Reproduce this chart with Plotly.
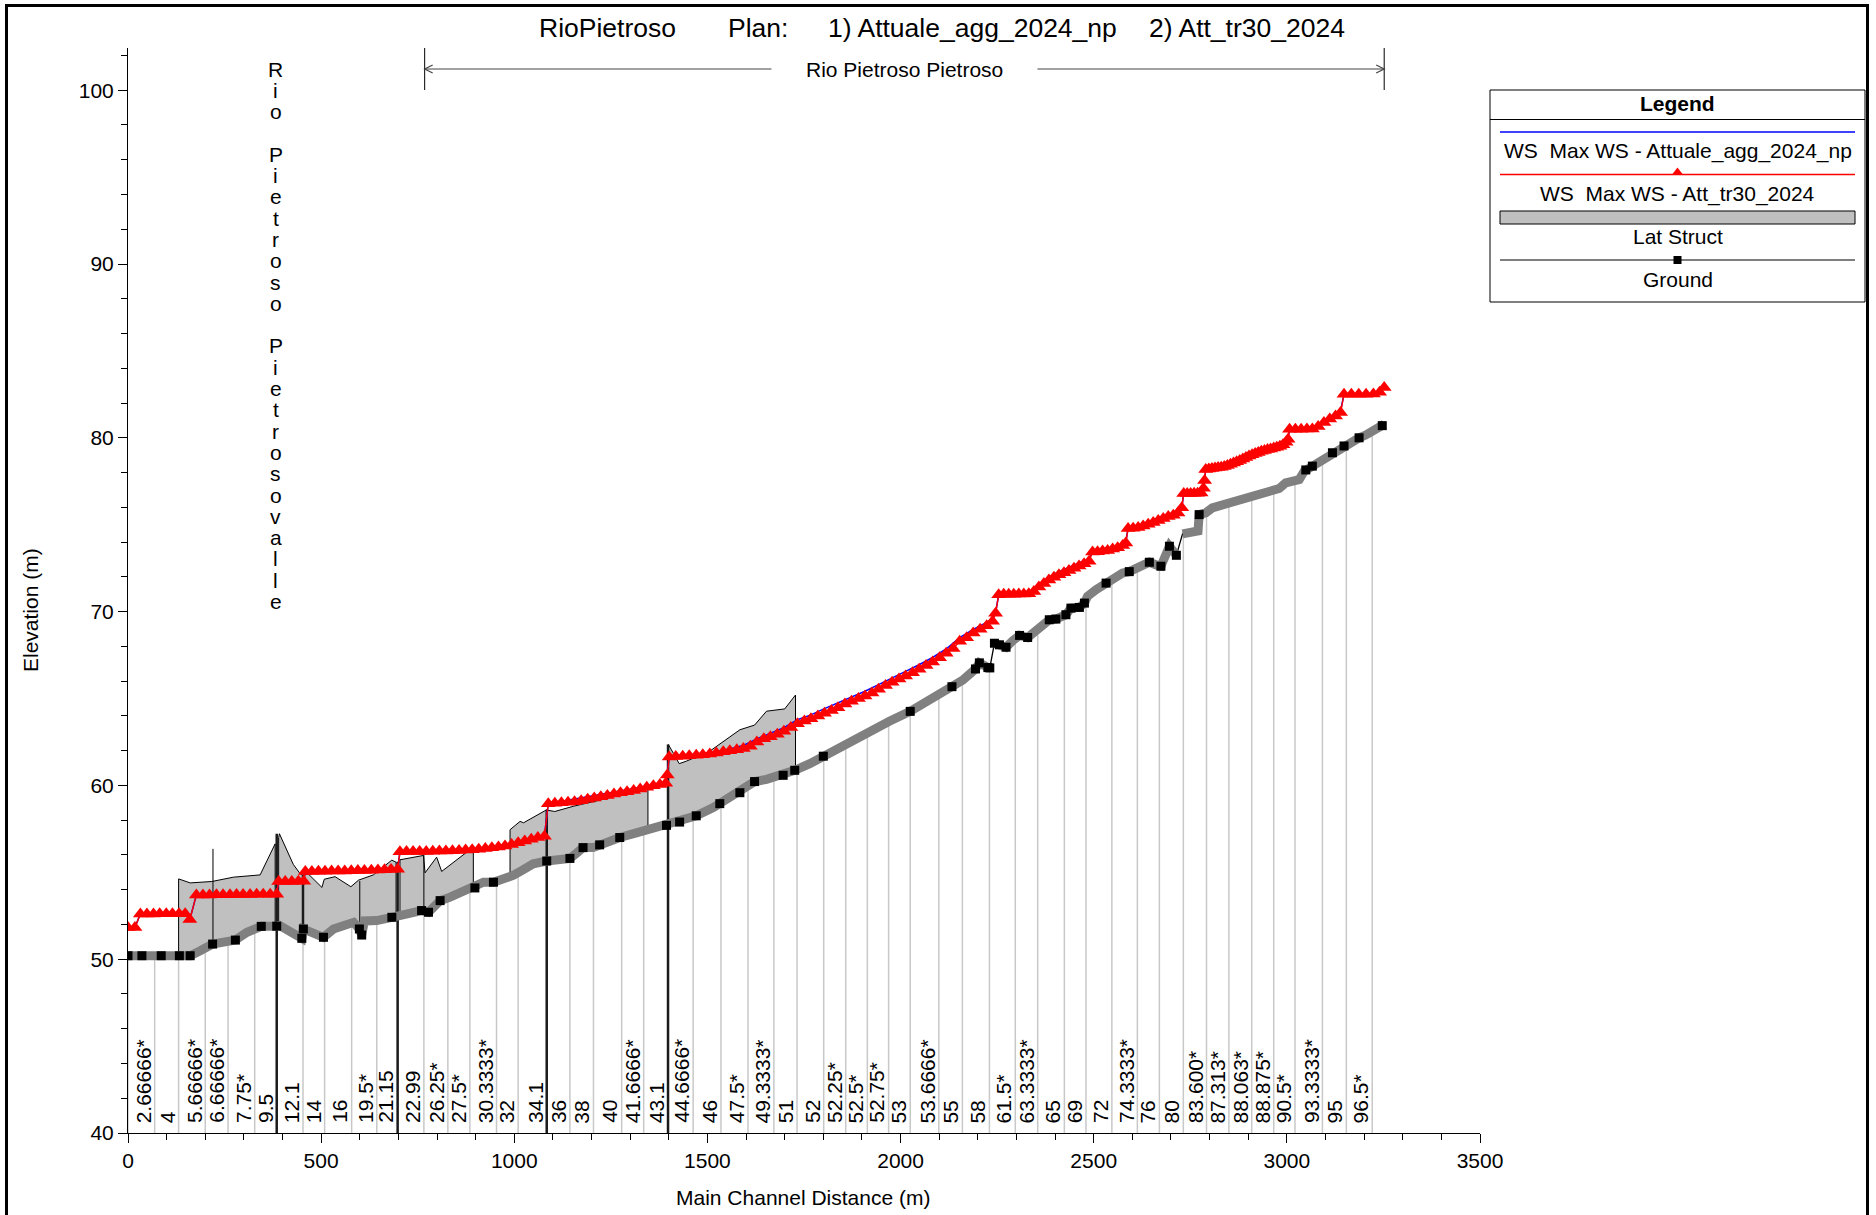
import plotly.graph_objects as go

W, H = 1876, 1215
FONT = "Liberation Sans, Arial, sans-serif"

# ---------------- data ----------------
grid_x = [0, 69, 131, 200, 259, 328, 385, 453, 509, 579, 644, 698, 766, 828, 885, 954, 1010,
          1084, 1144, 1205, 1278, 1335, 1398, 1463, 1535, 1605, 1672, 1732, 1801, 1858, 1914,
          1969, 2025, 2099, 2160, 2230, 2297, 2355, 2424, 2480, 2547, 2613, 2670, 2732, 2792,
          2850, 2909, 2966, 3021, 3092, 3154, 3221]
grid_ground = [50.2, 50.2, 50.2, 50.62, 51.05, 51.75, 51.9, 51.5, 51.3, 52.1,
               52.22, 52.5, 52.77, 53.52, 54.0, 54.45, 54.98, 55.65, 55.8, 56.42,
               57.03, 57.4, 57.72, 58.18, 58.98, 59.92, 60.45, 60.9, 61.68, 62.42,
               63.11, 63.67, 64.26, 65.17, 66.05, 66.76, 68.45, 68.93, 69.78, 70.6,
               71.95, 72.53, 72.63, 74.47, 75.71, 76.25, 76.64, 76.99, 77.55, 78.7,
               79.6, 80.37]
station_labels = ["2.66666*", "4", "5.66666*", "6.66666*", "7.75*", "9.5", "12.1", "14", "16",
                  "19.5*", "21.15", "22.99", "26.25*", "27.5*", "30.3333*", "32", "34.1", "36",
                  "38", "40", "41.6666*", "43.1", "44.6666*", "46", "47.5*", "49.3333*", "51",
                  "52", "52.25*", "52.5*", "52.75*", "53", "53.6666*", "55", "58", "61.5*",
                  "63.3333*", "65", "69", "72", "74.3333*", "76", "80", "83.600*", "87.313*",
                  "88.063*", "88.875*", "90.5*", "93.3333*", "95", "96.5*"]

ground = [(0, 50.2), (36, 50.2), (86, 50.2), (133, 50.2), (161, 50.2), (187, 50.49),
          (219, 50.87), (278, 51.1), (308, 51.55), (345, 51.89), (377, 51.8), (385, 51.9),
          (392, 51.95), (428, 51.45), (450, 51.2), (454, 51.74), (480, 51.55), (506, 51.26),
          (532, 51.74), (584, 52.12), (599, 51.74), (605, 51.39), (612, 52.2), (644, 52.22),
          (683, 52.41), (698, 52.5), (760, 52.8), (778, 52.7), (808, 53.37), (834, 53.57),
          (877, 53.95), (898, 54.1), (920, 54.43), (946, 54.43), (963, 54.53), (997, 54.82),
          (1019, 55.1), (1049, 55.49), (1084, 55.65), (1118, 55.77), (1144, 55.8),
          (1161, 56.1), (1178, 56.42), (1204, 56.42), (1221, 56.58), (1247, 56.73),
          (1273, 57.0), (1316, 57.27), (1351, 57.5), (1394, 57.7), (1428, 57.89),
          (1471, 58.25), (1515, 58.72), (1532, 58.95), (1549, 59.2), (1584, 59.58),
          (1622, 60.22), (1653, 60.35), (1696, 60.58), (1726, 60.87), (1765, 61.25),
          (1800, 61.68), (1834, 62.08), (1860, 62.45), (1915, 63.12), (1971, 63.69),
          (2025, 64.26), (2101, 65.2), (2133, 65.68), (2161, 66.06), (2194, 66.7),
          (2204, 67.05), (2226, 66.78), (2231, 66.76), (2243, 68.18), (2256, 68.09),
          (2273, 67.95), (2290, 68.32), (2308, 68.63), (2329, 68.51), (2351, 68.86),
          (2368, 69.2), (2385, 69.53), (2402, 69.57), (2428, 69.82), (2441, 70.2),
          (2463, 70.24), (2476, 70.49), (2484, 70.88), (2506, 71.26), (2532, 71.64),
          (2553, 72.03), (2575, 72.22), (2592, 72.3), (2609, 72.51), (2631, 72.7),
          (2644, 72.84), (2665, 72.65), (2674, 72.61), (2696, 73.76), (2714, 73.24),
          (2730, 74.47), (2756, 74.59), (2770, 74.64), (2773, 75.58), (2790, 75.68),
          (2807, 75.97), (2851, 76.26), (2894, 76.55), (2937, 76.8), (2980, 77.08),
          (2997, 77.41), (3032, 77.6), (3045, 78.08), (3066, 78.37), (3101, 78.81),
          (3118, 79.14), (3135, 79.33), (3148, 79.53), (3170, 79.72), (3187, 80.0),
          (3204, 80.16), (3239, 80.58), (3252, 80.78)]
band_breaks = [2237, 2722]

ground_marks = [(0, 50.2), (36, 50.2), (86, 50.2), (133, 50.2), (161, 50.2), (219, 50.87),
                (278, 51.1), (345, 51.89), (385, 51.9), (450, 51.2), (454, 51.74),
                (506, 51.26), (599, 51.74), (605, 51.39), (683, 52.41), (760, 52.8),
                (778, 52.7), (808, 53.37), (898, 54.1), (946, 54.43), (1084, 55.65),
                (1144, 55.8), (1178, 56.42), (1221, 56.58), (1273, 57.0), (1394, 57.7),
                (1428, 57.89), (1471, 58.25), (1532, 58.95), (1584, 59.58), (1622, 60.22),
                (1696, 60.58), (1726, 60.87), (1800, 61.68), (2025, 64.26), (2133, 65.68),
                (2194, 66.7), (2204, 67.05), (2226, 66.78), (2231, 66.76), (2243, 68.18),
                (2256, 68.09), (2273, 67.95), (2308, 68.63), (2329, 68.51), (2385, 69.53),
                (2402, 69.57), (2428, 69.82), (2441, 70.2), (2463, 70.24), (2476, 70.49),
                (2532, 71.64), (2592, 72.3), (2644, 72.84), (2674, 72.61), (2696, 73.76),
                (2714, 73.24), (2773, 75.58), (3049, 78.15), (3066, 78.37), (3118, 79.14),
                (3148, 79.53), (3187, 80.0), (3247, 80.7)]

# WS Max WS - Att_tr30_2024 (red, markers at every section)
ws_tr30 = [(0, 51.83), (18, 51.83), (32, 52.6), (49, 52.6), (66, 52.6), (82, 52.61),
           (99, 52.61), (115, 52.62), (132, 52.62), (148, 52.62), (160, 52.28),
           (177, 53.7), (194, 53.7), (211, 53.7), (229, 53.71), (246, 53.71), (264, 53.71),
           (281, 53.72), (298, 53.72), (316, 53.72), (333, 53.73), (350, 53.73),
           (368, 53.73), (385, 53.74), (390, 54.47), (407, 54.47), (424, 54.47),
           (441, 54.48), (455, 54.48), (459, 55.05), (476, 55.05), (493, 55.06),
           (510, 55.06), (527, 55.07), (544, 55.07), (561, 55.08), (578, 55.09),
           (595, 55.1), (612, 55.11), (630, 55.12), (647, 55.13), (664, 55.14),
           (681, 55.16), (698, 55.17), (704, 56.18), (721, 56.19), (738, 56.19),
           (755, 56.2), (772, 56.2), (789, 56.21), (806, 56.22), (823, 56.23), (840, 56.24),
           (857, 56.26), (874, 56.28), (891, 56.3), (908, 56.33), (925, 56.37),
           (942, 56.41), (959, 56.46), (976, 56.52), (993, 56.6), (1010, 56.7),
           (1027, 56.8), (1044, 56.9), (1061, 57.0), (1078, 57.08), (1088, 58.95),
           (1105, 58.97), (1122, 59.0), (1139, 59.03), (1156, 59.06), (1173, 59.12),
           (1190, 59.2), (1207, 59.27), (1224, 59.34), (1241, 59.42), (1258, 59.5),
           (1275, 59.57), (1292, 59.63), (1309, 59.7), (1326, 59.8), (1343, 59.9),
           (1360, 59.98), (1377, 60.05), (1392, 60.12), (1396, 60.6), (1401, 61.64),
           (1418, 61.66), (1436, 61.68), (1453, 61.7), (1471, 61.73), (1488, 61.76),
           (1506, 61.8), (1523, 61.86), (1541, 61.94), (1558, 62.0), (1576, 62.05),
           (1593, 62.12), (1611, 62.25), (1628, 62.5), (1646, 62.68), (1663, 62.8),
           (1681, 62.95), (1698, 63.12), (1716, 63.33), (1733, 63.55), (1751, 63.7),
           (1768, 63.83), (1786, 64.0), (1803, 64.15), (1821, 64.31), (1838, 64.47),
           (1856, 64.68), (1873, 64.84), (1891, 65.0), (1908, 65.14), (1926, 65.32),
           (1943, 65.53), (1961, 65.75), (1978, 65.94), (1996, 66.12), (2013, 66.3),
           (2031, 66.48), (2048, 66.68), (2066, 66.9), (2083, 67.1), (2101, 67.35),
           (2118, 67.6), (2136, 67.88), (2153, 68.3), (2171, 68.5), (2188, 68.77),
           (2206, 68.98), (2223, 69.18), (2238, 69.45), (2246, 69.91), (2254, 70.97),
           (2267, 71.0), (2280, 71.0), (2293, 71.0), (2306, 71.01), (2319, 71.01),
           (2332, 71.02), (2345, 71.15), (2358, 71.42), (2371, 71.62), (2384, 71.82),
           (2397, 71.98), (2410, 72.12), (2423, 72.24), (2436, 72.36), (2449, 72.5),
           (2462, 72.62), (2475, 72.75), (2488, 72.9), (2497, 73.43), (2510, 73.45),
           (2523, 73.48), (2536, 73.52), (2549, 73.6), (2562, 73.68), (2575, 73.8),
           (2583, 73.95), (2589, 74.78), (2602, 74.8), (2615, 74.84), (2628, 74.92),
           (2641, 75.02), (2654, 75.12), (2667, 75.24), (2680, 75.36), (2693, 75.47),
           (2706, 75.55), (2718, 75.68), (2728, 75.97), (2733, 76.8), (2742, 76.8),
           (2751, 76.8), (2760, 76.81), (2769, 76.81), (2778, 76.82), (2784, 77.1),
           (2787, 77.55), (2790, 78.18), (2798, 78.2), (2806, 78.23), (2814, 78.26),
           (2822, 78.29), (2830, 78.31), (2838, 78.35), (2846, 78.41), (2854, 78.48),
           (2862, 78.55), (2870, 78.62), (2878, 78.7), (2886, 78.78), (2894, 78.86),
           (2902, 78.95), (2910, 79.03), (2918, 79.1), (2926, 79.16), (2934, 79.22),
           (2942, 79.27), (2950, 79.32), (2958, 79.36), (2966, 79.41), (2974, 79.46),
           (2982, 79.52), (2990, 79.6), (2998, 79.75), (3003, 79.91), (3007, 80.49),
           (3022, 80.49), (3037, 80.49), (3052, 80.5), (3066, 80.5), (3081, 80.65),
           (3096, 80.88), (3111, 81.08), (3126, 81.25), (3139, 81.45), (3148, 82.51),
           (3167, 82.51), (3186, 82.51), (3205, 82.51), (3224, 82.52), (3240, 82.62),
           (3252, 82.89)]

# WS Max WS - Attuale_agg_2024_np (blue line)
ws_attuale = [(0, 51.83), (18, 51.83), (32, 52.6), (148, 52.62), (160, 52.28), (177, 53.7),
              (385, 53.74), (390, 54.47), (455, 54.48), (459, 55.05), (698, 55.17),
              (704, 56.18), (891, 56.3), (1010, 56.72), (1078, 57.1), (1088, 58.95),
              (1392, 60.14), (1396, 60.6), (1401, 61.66), (1453, 61.74), (1506, 61.86),
              (1558, 62.1), (1593, 62.3), (1628, 62.68), (1663, 62.98), (1698, 63.32),
              (1733, 63.78), (1768, 64.06), (1803, 64.42), (1838, 64.75), (1873, 65.1),
              (1908, 65.42), (1943, 65.8), (1978, 66.2), (2013, 66.56), (2048, 66.94),
              (2083, 67.36), (2118, 67.85), (2153, 68.5), (2188, 68.98), (2223, 69.36),
              (2238, 69.55), (2246, 69.93), (2254, 70.98), (2332, 71.04), (2345, 71.25),
              (2371, 71.78), (2397, 72.15), (2423, 72.42), (2449, 72.68), (2475, 72.93),
              (2488, 73.05), (2497, 73.45), (2549, 73.65), (2575, 73.85), (2583, 73.98),
              (2589, 74.8), (2615, 74.86), (2641, 75.12), (2667, 75.36), (2693, 75.6),
              (2718, 75.8), (2728, 76.0), (2733, 76.8), (2778, 76.84), (2784, 77.12),
              (2787, 77.56), (2790, 78.2), (2830, 78.36), (2870, 78.78), (2910, 79.22),
              (2950, 79.5), (2990, 79.75), (2998, 79.9), (3003, 80.0), (3007, 80.5),
              (3066, 80.52), (3081, 80.72), (3111, 81.22), (3139, 81.55), (3148, 82.52),
              (3224, 82.53), (3240, 82.66), (3252, 82.92)]

# Lateral structures (closed outlines: crest, then ground back)
ls1_x = [131, 161, 217, 273, 342, 381, 381, 345, 308, 278, 219, 187, 161, 131, 131]
ls1_z = [54.62, 54.39, 54.47, 54.72, 54.85, 56.64, 51.9, 51.89, 51.55, 51.1, 50.87, 50.49, 50.2, 50.2, 54.62]
ls2_x = [390, 392, 428, 446, 452, 452, 428, 390, 390]
ls2_z = [57.0, 57.22, 55.45, 54.91, 54.85, 51.3, 51.45, 51.93, 57.0]
ls3_x = [453, 467, 502, 508, 536, 577, 597, 635, 683, 694, 694, 683, 644, 612, 605, 599, 584, 532, 506, 480, 454, 453]
ls3_z = [54.85, 54.9, 54.13, 54.6, 54.75, 54.17, 54.55, 54.85, 55.7, 55.58, 52.48, 52.41, 52.22, 52.2, 51.39, 51.74, 52.12, 51.74, 51.26, 51.55, 51.74, 54.85]
ls4_x = [704, 765, 769, 799, 812, 894, 894, 877, 834, 808, 778, 760, 704, 704]
ls4_z = [55.72, 55.97, 54.97, 55.87, 55.05, 56.45, 54.1, 53.95, 53.57, 53.37, 52.7, 52.8, 52.52, 55.72]
ls5_x = [989, 1015, 1024, 1079, 1084, 1084, 1049, 1019, 989, 989]
ls5_z = [57.45, 57.93, 57.85, 58.57, 58.6, 55.65, 55.49, 55.1, 54.75, 57.45]
ls6_x = [1086, 1105, 1153, 1240, 1325, 1346, 1346, 1316, 1273, 1247, 1221, 1178, 1161, 1144, 1118, 1086, 1086]
ls6_z = [58.57, 58.5, 58.8, 59.25, 59.85, 60.04, 57.47, 57.27, 57.0, 56.73, 56.58, 56.42, 56.1, 55.8, 55.77, 55.66, 58.57]
ls7_x = [1399, 1410, 1427, 1446, 1506, 1584, 1622, 1653, 1700, 1728, 1728, 1696, 1653, 1622, 1584, 1549, 1515, 1471, 1428, 1399, 1399]
ls7_z = [62.35, 61.9, 61.25, 61.4, 61.97, 63.2, 63.47, 64.27, 64.4, 65.2, 60.87, 60.58, 60.35, 60.22, 59.58, 59.2, 58.72, 58.25, 57.89, 57.7, 62.35]

# thin posts and structure lines
post_x = [220, 600, 766]
post_bot = [50.87, 52.0, 52.75]
post_top = [56.35, 54.5, 56.0]
struct_x = [385, 453, 698, 1084, 1398]
struct_bot = [40, 51.3, 40, 40, 40]
struct_top = [57.22, 54.85, 55.6, 58.6, 62.35]

reach_up = [768, 3252]
reach_up_name = "Rio Pietroso Pietroso"
reach_down = [0, 766]
reach_down_name = "Rio Pietroso Pietrosovalle"

title_parts = ["RioPietroso", "Plan:", "1) Attuale_agg_2024_np", "2) Att_tr30_2024"]
legend_labels = ["WS\u00a0 Max WS - Attuale_agg_2024_np", "WS\u00a0 Max WS - Att_tr30_2024",
                 "Lat Struct", "Ground"]

# ---------------- layout helpers ----------------
PL, PR, PT, PB = 128, 1480, 48, 1133   # plot area in pixels
Y0 = 40
Y1 = 40 + (PB - PT) / 17.38
X0, X1 = 0, 3500
m_per_px = (X1 - X0) / (PR - PL)
TXT = 21

fig = go.Figure()

# gridlines (station lines from axis to ground)
gx, gy = [], []
for x, z in zip(grid_x, grid_ground):
    gx += [x, x, None]
    gy += [Y0, z, None]
fig.add_trace(go.Scatter(x=gx, y=gy, mode="lines", line=dict(color="#C8C8C8", width=1.5),
                         hoverinfo="skip", showlegend=False))

# lateral structures
for lx, lz in [(ls1_x, ls1_z), (ls2_x, ls2_z), (ls3_x, ls3_z), (ls4_x, ls4_z),
               (ls5_x, ls5_z), (ls6_x, ls6_z), (ls7_x, ls7_z)]:
    fig.add_trace(go.Scatter(x=lx, y=lz, mode="lines", fill="toself", fillcolor="#C0C0C0",
                             line=dict(color="black", width=1), hoverinfo="skip",
                             showlegend=False))

# posts
px_, pz_ = [], []
for x, b, t in zip(post_x, post_bot, post_top):
    px_ += [x, x, None]
    pz_ += [b, t, None]
fig.add_trace(go.Scatter(x=px_, y=pz_, mode="lines", line=dict(color="black", width=1),
                         hoverinfo="skip", showlegend=False))
sx_, sz_ = [], []
for x, b, t in zip(struct_x, struct_bot, struct_top):
    sx_ += [x, x, None]
    sz_ += [b, t, None]
fig.add_trace(go.Scatter(x=sx_, y=sz_, mode="lines", line=dict(color="#1a1a1a", width=2.5),
                         hoverinfo="skip", showlegend=False))

# ground: thin black line + gray band + black markers
g_x = [p[0] for p in ground]
g_z = [p[1] for p in ground]
fig.add_trace(go.Scatter(x=g_x, y=g_z, mode="lines", line=dict(color="black", width=1.3),
                         hoverinfo="skip", showlegend=False))
bx, bz = [], []
for i, (x, z) in enumerate(ground):
    if i > 0 and any(ground[i - 1][0] < b < x for b in band_breaks):
        bx.append(None)
        bz.append(None)
    bx.append(x)
    bz.append(z)
fig.add_trace(go.Scatter(x=bx, y=bz, mode="lines", line=dict(color="#808080", width=9),
                         connectgaps=False, hoverinfo="skip", showlegend=False))
fig.add_trace(go.Scatter(x=[p[0] for p in ground_marks], y=[p[1] for p in ground_marks],
                         mode="markers", marker=dict(symbol="square", size=9, color="black"),
                         hoverinfo="skip", showlegend=False))

# water surfaces
fig.add_trace(go.Scatter(x=[p[0] for p in ws_attuale], y=[p[1] for p in ws_attuale],
                         mode="lines", line=dict(color="#0000FF", width=1.5),
                         hoverinfo="skip", showlegend=False))
fig.add_trace(go.Scatter(x=[p[0] for p in ws_tr30], y=[p[1] for p in ws_tr30],
                         mode="lines+markers", line=dict(color="#FF0000", width=1.5),
                         marker=dict(symbol="triangle-up", size=13, color="#FF0000"),
                         hoverinfo="skip", showlegend=False))

# legend markers on pixel overlay axes
LCX = 1677.5
fig.add_trace(go.Scatter(x=[LCX], y=[172.5], xaxis="x2", yaxis="y2", mode="markers",
                         marker=dict(symbol="triangle-up", size=10, color="#FF0000"),
                         hoverinfo="skip", showlegend=False))
fig.add_trace(go.Scatter(x=[LCX], y=[260], xaxis="x2", yaxis="y2", mode="markers",
                         marker=dict(symbol="square", size=8, color="black"),
                         hoverinfo="skip", showlegend=False))

annotations = []
shapes = []


def pix_text(txt, x, y, size=TXT, bold=False, angle=0, xanchor="center"):
    if bold:
        txt = "<b>" + txt + "</b>"
    annotations.append(dict(text=txt, x=x, y=y, xref="x2", yref="y2", showarrow=False,
                            font=dict(family=FONT, size=size, color="black"),
                            xanchor=xanchor, yanchor="middle", textangle=angle))


# title
for txt, cx in zip(title_parts, [607, 758, 972, 1247]):
    pix_text(txt, cx, 28, size=26.5)

# axis titles
pix_text("Elevation (m)", 30, 610, angle=-90)
pix_text("Main Channel Distance (m)", 803, 1197)

# station labels
for x, lab in zip(grid_x[1:], station_labels):
    annotations.append(dict(text=lab, x=x, y=40.45, xref="x", yref="y", showarrow=False,
                            textangle=-90, xanchor="right", yanchor="bottom", xshift=2,
                            font=dict(family=FONT, size=21, color="black")))

# reach labels
rc = (reach_up[0] + reach_up[1]) / 2
annotations.append(dict(text=reach_up_name, x=rc, y=69, xref="x", yref="y2", showarrow=False,
                        font=dict(family=FONT, size=TXT, color="black"),
                        xanchor="center", yanchor="middle"))
gap = 133 * m_per_px
ah = 8 * m_per_px
for x0, x1 in [(reach_up[0], rc - gap), (rc + gap, reach_up[1])]:
    shapes.append(dict(type="line", xref="x", yref="y2", x0=x0, x1=x1, y0=69, y1=69,
                       line=dict(color="#444444", width=1.2)))
for xe in reach_up:
    shapes.append(dict(type="line", xref="x", yref="y2", x0=xe, x1=xe, y0=48, y1=90,
                       line=dict(color="black", width=1)))
shapes.append(dict(type="path", xref="x", yref="y2",
                   path=f"M {reach_up[0] + ah} 65 L {reach_up[0]} 69 L {reach_up[0] + ah} 73",
                   line=dict(color="#444444", width=1.2)))
shapes.append(dict(type="path", xref="x", yref="y2",
                   path=f"M {reach_up[1] - ah} 65 L {reach_up[1]} 69 L {reach_up[1] - ah} 73",
                   line=dict(color="#444444", width=1.2)))

dc = (reach_down[0] + reach_down[1]) / 2
for i, ch in enumerate(reach_down_name):
    if ch != " ":
        annotations.append(dict(text=ch, x=dc, y=69 + i * 21.3, xref="x", yref="y2",
                                showarrow=False, xanchor="center", yanchor="middle",
                                font=dict(family=FONT, size=TXT, color="black")))

# legend box
shapes.append(dict(type="rect", xref="x2", yref="y2", x0=1490, x1=1865, y0=90, y1=302,
                   line=dict(color="black", width=1), fillcolor="rgba(0,0,0,0)"))
shapes.append(dict(type="line", xref="x2", yref="y2", x0=1490, x1=1865, y0=119.5, y1=119.5,
                   line=dict(color="black", width=1)))
pix_text("Legend", LCX, 103, bold=True)
shapes.append(dict(type="line", xref="x2", yref="y2", x0=1500, x1=1855, y0=132, y1=132,
                   line=dict(color="#0000FF", width=1.5)))
pix_text(legend_labels[0], LCX, 151)
shapes.append(dict(type="line", xref="x2", yref="y2", x0=1500, x1=1855, y0=174.5, y1=174.5,
                   line=dict(color="#FF0000", width=1.5)))
pix_text(legend_labels[1], LCX, 193.5)
shapes.append(dict(type="rect", xref="x2", yref="y2", x0=1500, x1=1855, y0=211, y1=224,
                   line=dict(color="black", width=1), fillcolor="#C0C0C0"))
pix_text(legend_labels[2], LCX, 236)
shapes.append(dict(type="line", xref="x2", yref="y2", x0=1500, x1=1855, y0=260, y1=260,
                   line=dict(color="black", width=1.2)))
pix_text(legend_labels[3], LCX, 279)

# outer frame (bottom edge lies below the visible page)
shapes.append(dict(type="rect", xref="x2", yref="y2", x0=6.5, x1=1867.5, y0=5.5, y1=1240,
                   line=dict(color="black", width=3), fillcolor="rgba(0,0,0,0)"))

fig.update_layout(
    template="none",
    width=W, height=H, margin=dict(l=0, r=0, t=0, b=0, pad=0, autoexpand=False),
    paper_bgcolor="white", plot_bgcolor="rgba(0,0,0,0)",
    hovermode=False, showlegend=False,
    font=dict(family=FONT, size=TXT, color="black"),
    xaxis=dict(domain=[PL / W, PR / W], range=[X0, X1], showline=True, linecolor="black",
               linewidth=1, ticks="outside", ticklen=9, tickcolor="black", automargin=False,
               tickvals=list(range(0, 3501, 500)), showgrid=False, zeroline=False,
               tickfont=dict(family=FONT, size=TXT, color="black"), anchor="y",
               minor=dict(ticks="outside", ticklen=6, dtick=100, tick0=0, tickcolor="black",
                          showgrid=False)),
    yaxis=dict(domain=[(H - PB) / H, (H - PT) / H], range=[Y0, Y1], showline=True,
               linecolor="black", linewidth=1, ticks="outside", ticklen=9, tickcolor="black",
               automargin=False,
               tickvals=list(range(40, 101, 10)), showgrid=False, zeroline=False,
               tickfont=dict(family=FONT, size=TXT, color="black"), anchor="x",
               minor=dict(ticks="outside", ticklen=6, dtick=2, tick0=40, tickcolor="black",
                          showgrid=False)),
    xaxis2=dict(domain=[0, 1], range=[0, W], visible=False, anchor="y2", fixedrange=True,
                automargin=False),
    yaxis2=dict(domain=[0, 1], range=[H, 0], visible=False, anchor="x2", fixedrange=True,
                automargin=False),
    annotations=annotations, shapes=shapes,
)

fit_js = (
    "document.documentElement.style.margin='0px';"
    "document.body.style.margin='0px';"
    "document.body.style.overflow='hidden';"
)
fig.write_html("out.html", config={"displayModeBar": False}, post_script=fit_js)
